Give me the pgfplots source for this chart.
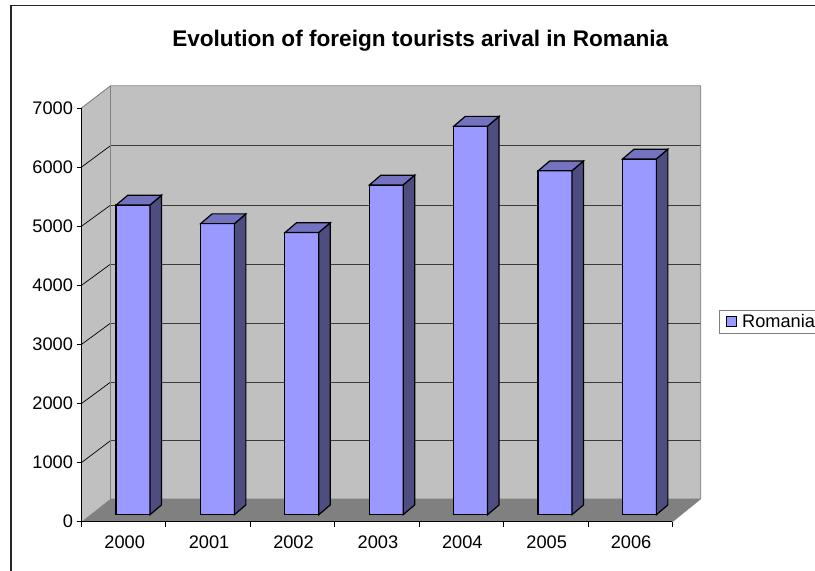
\documentclass[border=0pt]{standalone}
\usepackage{fontspec}
\setmainfont{Liberation Sans}
\usepackage{pgfplots}
\pgfplotsset{compat=1.18}
\definecolor{barfront}{HTML}{9999FF}
\definecolor{barside}{HTML}{4D4D80}
\definecolor{bartop}{HTML}{7373BF}
\definecolor{wall}{HTML}{C0C0C0}
\definecolor{floorc}{HTML}{808080}
\definecolor{gridc}{HTML}{3A3A3A}
% one bar's side and top faces, from its category and its value (depth offset in data units)
\newcommand{\cubefaces}[2]{%
  \pgfmathsetmacro{\xa}{#1-0.2}%
  \pgfmathsetmacro{\xb}{#1+0.2}%
  \pgfmathsetmacro{\xc}{#1+0.2+0.136}%
  \pgfmathsetmacro{\xd}{#1-0.2+0.136}%
  \pgfmathsetmacro{\yt}{#2+165}%
  \addplot[fill=barside,draw=black,line width=1.2pt,line join=miter,forget plot,xshift=9.4pt,yshift=7pt]
    coordinates {(\xb,0) (\xc,165) (\xc,\yt) (\xb,#2)} --cycle;
  \addplot[fill=bartop,draw=black,line width=1.2pt,line join=miter,forget plot,xshift=9.4pt,yshift=7pt]
    coordinates {(\xa,#2) (\xb,#2) (\xc,\yt) (\xd,\yt)} --cycle;
}
\begin{document}
\begin{tikzpicture}
\path[use as bounding box,clip] (0pt,0pt) rectangle (815pt,-571pt);
% chart frame
\draw[line width=1.4pt,draw=black!85] (11pt,-571pt) -- (11pt,-5.5pt) -- (815pt,-5.5pt);
% walls and floor
\fill[wall] (81.5pt,-108pt) -- (110.7pt,-85.7pt) -- (110.7pt,-498.7pt) -- (81.5pt,-521.7pt) -- cycle;
\fill[wall] (110.7pt,-85.7pt) rectangle (700.7pt,-498.7pt);
\fill[floorc] (81.5pt,-521.7pt) -- (110.7pt,-498.7pt) -- (700.7pt,-498.7pt) -- (672.3pt,-521.7pt) -- cycle;
% gridlines
\foreach \f/\b in {462.6/440.5,403.5/382,344.4/323,285.3/264,226.2/205,167.1/145.5}{
  \draw[gridc,line width=0.9pt] (110.7pt,-\b pt) -- (700.7pt,-\b pt);
  \draw[black,line width=0.7pt] (81.5pt,-\f pt) -- (110.7pt,-\b pt);
}
\draw[floorc,line width=0.9pt] (81.5pt,-108pt) -- (110.7pt,-85.7pt) -- (700.7pt,-85.7pt) -- (700.7pt,-498.7pt) -- (672.3pt,-521.7pt);
\draw[floorc,line width=1.4pt] (110.7pt,-85.7pt) -- (110.7pt,-498.7pt);
\begin{axis}[
  at={(81.5pt,-521.7pt)},anchor=south west,
  scale only axis,width=590.8pt,height=413.7pt,
  xmin=-0.5,xmax=6.5,ymin=0,ymax=7000,
  clip=false,
  axis x line*=bottom,axis y line*=left,
  axis line style={black,line width=1.1pt,-},
  xtick={-0.5,0.5,1.5,2.5,3.5,4.5,5.5,6.5},xticklabels={},
  extra x ticks={0,1,2,3,4,5,6},
  extra x tick labels={2000,2001,2002,2003,2004,2005,2006},
  extra x tick style={major tick length=0pt,tick label style={yshift=-11pt,xshift=1pt}},
  ytick={0,1000,2000,3000,4000,5000,6000,7000},
  scaled y ticks=false,
  yticklabel style={/pgf/number format/1000 sep={},/pgf/number format/assume math mode=true},
  xticklabel style={/pgf/number format/assume math mode=true},
  tick label style={font=\fontsize{18.2pt}{20pt}\selectfont},
  tick style={black,line width=0.8pt},
  xtick align=outside,ytick align=outside,
  major tick length=5pt,
  title={\textbf{Evolution of foreign tourists arival in Romania}},
  title style={font=\fontsize{22.6pt}{26pt}\selectfont,at={(0.5735,1.1475)},anchor=center},
  legend style={at={(1.0795,0.4827)},anchor=west,draw=floorc,line width=0.9pt,fill=white,
    font=\fontsize{18.2pt}{20pt}\selectfont,inner xsep=6.5pt,inner ysep=2pt,
    nodes={inner xsep=3pt},legend cell align=left},
]
\addplot[ybar,bar width=34pt,fill=barfront,draw=black,line width=1.2pt,xshift=9.4pt,yshift=7pt,
  area legend,
  legend image code/.code={\draw[fill=barfront,draw=black,line width=0.9pt] (0pt,-11pt) rectangle (10pt,-1pt);}]
  coordinates {(0,5240) (1,4925) (2,4775) (3,5580) (4,6575) (5,5820) (6,6020)};
\addlegendentry{\hspace{2pt}Romania\hspace{30pt}}
\cubefaces{0}{5240}
\cubefaces{1}{4925}
\cubefaces{2}{4775}
\cubefaces{3}{5580}
\cubefaces{4}{6575}
\cubefaces{5}{5820}
\cubefaces{6}{6020}
\end{axis}
\end{tikzpicture}
\end{document}
